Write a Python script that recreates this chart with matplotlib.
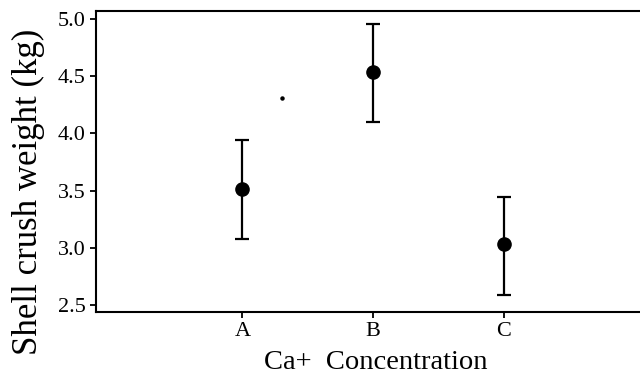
import matplotlib.pyplot as plt
import numpy as np

categories = ["A", "B", "C"]
means = [3.51, 4.54, 3.03]
upper = [3.94, 4.96, 3.44]
lower = [3.08, 4.10, 2.59]
stray_x = [1.30]
stray_y = [4.31]

plt.rcParams['font.family'] = ['Liberation Serif', 'DejaVu Serif']

fig = plt.figure(figsize=(6.4, 3.79), dpi=100)
ax = fig.add_axes([0.15, 0.177, 0.85, 0.794])

x = np.arange(1, len(categories) + 1)
m = np.array(means)
yerr = [m - np.array(lower), np.array(upper) - m]
ax.errorbar(x, m, yerr=yerr, fmt='o', color='black', ecolor='black',
            markersize=9.5, elinewidth=1.6, capsize=4.7, capthick=1.6)
ax.plot(stray_x, stray_y, 'o', color='black', markersize=2.2)

ax.set_xlim(-0.12, 4.04)
ax.set_ylim(2.44, 5.07)
ax.set_xticks(x)
ax.set_xticklabels(categories)
ax.set_yticks([2.5, 3.0, 3.5, 4.0, 4.5, 5.0])
ax.set_yticklabels(["2.5", "3.0", "3.5", "4.0", "4.5", "5.0"])

for side in ['left', 'top', 'bottom']:
    ax.spines[side].set_linewidth(1.5)
ax.spines['right'].set_visible(False)
ax.tick_params(axis='both', labelsize=16, width=1.3, length=4, direction='out')

ax.set_xlabel("Ca+  Concentration", fontsize=20.5, labelpad=6)
ax.set_ylabel("Shell crush weight (kg)", fontsize=25, labelpad=9)
ax.xaxis.label.set_x(0.515)
ax.yaxis.label.set_y(0.40)

fig.savefig("out.png", dpi=100)
